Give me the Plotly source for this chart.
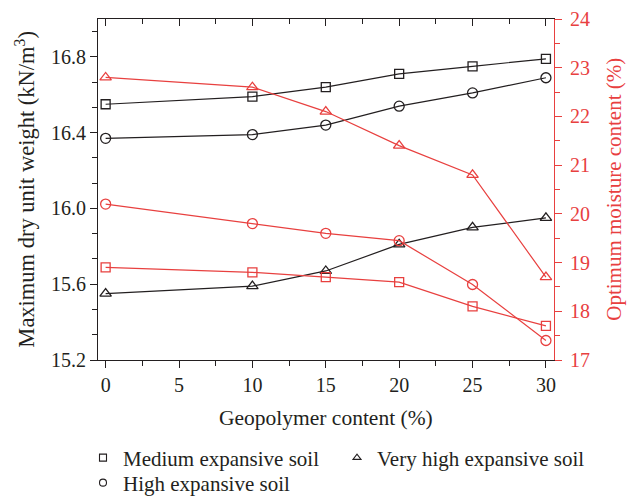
import plotly.graph_objects as go

# Geopolymer content (%)
geopolymer = [0, 10, 15, 20, 25, 30]

# Maximum dry unit weight (kN/m3)
mdd_medium = [16.55, 16.59, 16.64, 16.71, 16.75, 16.79]
mdd_high = [16.37, 16.39, 16.44, 16.54, 16.61, 16.69]
mdd_very_high = [15.55, 15.59, 15.67, 15.81, 15.90, 15.95]

# Optimum moisture content (%)
omc_medium = [18.9, 18.8, 18.7, 18.6, 18.1, 17.7]
omc_high = [20.2, 19.8, 19.6, 19.45, 18.55, 17.4]
omc_very_high = [22.8, 22.6, 22.1, 21.4, 20.8, 18.7]

series_names = ["Medium expansive soil", "High expansive soil", "Very high expansive soil"]
symbols = ["square-open", "circle-open", "triangle-up-open"]
marker_sizes = [9, 10, 10]

x_title = "Geopolymer content (%)"
y_title = "Maximum dry unit weight (kN/m<sup>3</sup>)"
y2_title = "Optimum moisture content (%)"

BLACK = "#231f20"
RED = "#e8403f"
FONT = "Liberation Serif"
FS = 20

fig = go.Figure()

for vals, sym, ms in zip([mdd_medium, mdd_high, mdd_very_high], symbols, marker_sizes):
    fig.add_trace(go.Scatter(
        x=geopolymer, y=vals, mode="lines+markers", showlegend=False,
        line=dict(color=BLACK, width=1.2),
        marker=dict(symbol=sym, size=ms, color=BLACK, line=dict(width=1.3, color=BLACK)),
        xaxis="x", yaxis="y"))

for vals, sym, ms in zip([omc_medium, omc_high, omc_very_high], symbols, marker_sizes):
    fig.add_trace(go.Scatter(
        x=geopolymer, y=vals, mode="lines+markers", showlegend=False,
        line=dict(color=RED, width=1.2),
        marker=dict(symbol=sym, size=ms, color=RED, line=dict(width=1.3, color=RED)),
        xaxis="x", yaxis="y2"))

# legend entries (marker only), one small legend per entry
legend_slots = {0: "legend", 2: "legend2", 1: "legend3"}
for idx, lg in legend_slots.items():
    fig.add_trace(go.Scatter(
        x=[None], y=[None], mode="markers", name=series_names[idx], legend=lg,
        marker=dict(symbol=symbols[idx], size=7, color=BLACK, line=dict(width=1.1, color=BLACK)),
        xaxis="x", yaxis="y"))

# helper trace for the top axis
fig.add_trace(go.Scatter(x=[None], y=[None], showlegend=False, xaxis="x2", yaxis="y"))

xr = [-0.52, 30.55]
legend_style = dict(
    orientation="v", xref="container", yref="container",
    xanchor="left", yanchor="middle", traceorder="normal",
    font=dict(size=21, color=BLACK), bgcolor="rgba(0,0,0,0)",
)
fig.update_layout(
    width=633, height=496,
    margin=dict(l=98, r=79, t=19, b=136, autoexpand=False),
    paper_bgcolor="white", plot_bgcolor="white",
    font=dict(family=FONT, size=FS, color=BLACK),
    xaxis=dict(
        range=xr, tickmode="linear", tick0=0, dtick=5,
        ticks="outside", ticklen=7, tickwidth=1.2, tickcolor=BLACK,
        minor=dict(dtick=2.5, tick0=0, ticks="outside", ticklen=5, tickwidth=1.2, tickcolor=BLACK),
        showline=True, linecolor=BLACK, linewidth=1.2, showgrid=False, zeroline=False,
        tickfont=dict(size=20),
    ),
    xaxis2=dict(
        range=xr, overlaying="x", side="top", tickmode="linear", tick0=0, dtick=5,
        ticks="inside", ticklen=7, tickwidth=1.2, tickcolor=BLACK,
        minor=dict(dtick=2.5, tick0=0, ticks="inside", ticklen=5, tickwidth=1.2, tickcolor=BLACK),
        showticklabels=False, showline=True, linecolor=BLACK, linewidth=1.2,
        showgrid=False, zeroline=False,
    ),
    yaxis=dict(
        range=[15.2, 17.0], tickmode="linear", tick0=15.2, dtick=0.4, tickformat=".1f",
        ticks="outside", ticklen=7, tickwidth=1.2, tickcolor=BLACK,
        minor=dict(dtick=0.4 / 3, tick0=15.2, ticks="outside", ticklen=5, tickwidth=1.2, tickcolor=BLACK),
        showline=True, linecolor=BLACK, linewidth=1.2, showgrid=False, zeroline=False,
        tickfont=dict(size=20),
    ),
    yaxis2=dict(
        range=[17, 24], overlaying="y", side="right", tickmode="linear", tick0=17, dtick=1,
        ticks="outside", ticklen=7, tickwidth=1.2, tickcolor=RED,
        minor=dict(dtick=0.5, tick0=17, ticks="outside", ticklen=5, tickwidth=1.2, tickcolor=RED),
        showline=True, linecolor=RED, linewidth=1.2, showgrid=False, zeroline=False,
        ticklabelstandoff=4,
        tickfont=dict(color=RED, size=20),
    ),
    legend=dict(x=83 / 633, y=1 - 458 / 496, **legend_style),
    legend2=dict(x=337 / 633, y=1 - 458 / 496, **legend_style),
    legend3=dict(x=83 / 633, y=1 - 483 / 496, **legend_style),
)

# axis titles
fig.add_annotation(text=x_title, xref="paper", yref="paper", x=0.5, y=-0.17,
                   xanchor="center", yanchor="middle", showarrow=False,
                   font=dict(size=21.5, color=BLACK))
fig.add_annotation(text=y_title, xref="paper", yref="paper", x=-0.162, y=0.50,
                   xanchor="center", yanchor="middle", showarrow=False, textangle=-90,
                   font=dict(size=22.5, color=BLACK))
fig.add_annotation(text=y2_title, xref="paper", yref="paper", x=1.13, y=0.50,
                   xanchor="center", yanchor="middle", showarrow=False, textangle=-90,
                   font=dict(size=21, color=RED))

fig.write_html("out.html")
